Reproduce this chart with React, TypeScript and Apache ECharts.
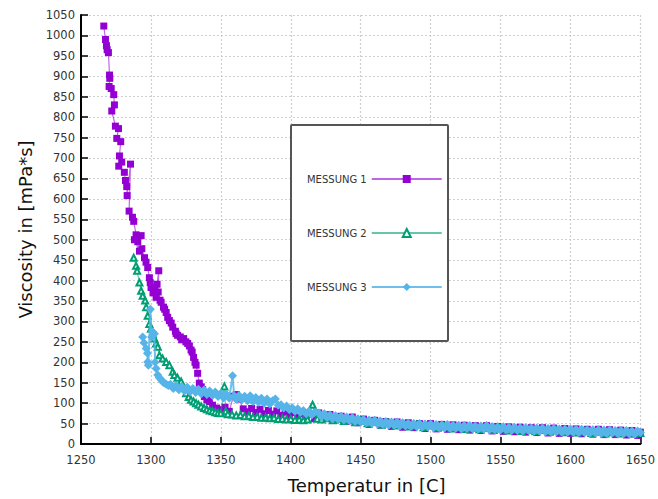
import React, { useEffect, useRef } from "react";
import * as echarts from "echarts";

const seriesNames = ["MESSUNG 1", "MESSUNG 2", "MESSUNG 3"];

// MESSUNG 1 : [temperature °C, viscosity mPa*s]
const m1Steep: number[][] = [
  [1266.3, 1023], [1267.5, 990], [1268.2, 975], [1268.7, 965], [1269.6, 958],
  [1270.4, 903], [1270.6, 895], [1270.1, 875], [1271.6, 870], [1273.4, 855],
  [1273.9, 830], [1272.0, 815], [1274.6, 778], [1276.8, 772], [1275.6, 748],
  [1278.4, 740], [1277.5, 705], [1279.1, 690], [1277.0, 680], [1281.0, 665],
  [1281.8, 645], [1282.7, 630], [1283.0, 608], [1285.4, 685], [1284.4, 570],
  [1286.8, 555], [1287.7, 545], [1289.4, 512], [1293.0, 510], [1290.6, 495],
  [1288.2, 500], [1291.8, 472], [1293.5, 478], [1295.4, 456], [1296.5, 445],
  [1297.7, 432], [1298.9, 407], [1299.5, 395], [1300.1, 383], [1301.5, 370],
  [1302.5, 378], [1303.7, 359], [1304.4, 391], [1305.6, 424], [1305.2, 372],
  [1306.5, 352], [1307.3, 347], [1309.0, 335], [1309.8, 330], [1310.9, 322],
  [1312.0, 310], [1313.2, 302], [1314.5, 296], [1315.6, 286], [1317.5, 276],
  [1318.0, 270], [1319.1, 266], [1321.0, 262], [1322.0, 255], [1323.4, 258],
  [1325.0, 250], [1326.3, 246], [1327.5, 240], [1328.7, 230], [1329.5, 225],
  [1330.5, 212], [1331.5, 200], [1332.3, 193], [1333.4, 173], [1334.6, 149],
  [1336.0, 140], [1337.0, 133], [1338.2, 116], [1340.0, 108], [1341.8, 104],
];
const m1Tail: number[][] = [
  [1344, 95], [1347, 88], [1350, 84], [1353, 90], [1356, 80], [1359, 117],
  [1361, 121], [1363, 110], [1366, 86], [1369, 79], [1372, 87], [1375, 77],
  [1378, 85], [1381, 74], [1384, 82], [1387, 73], [1390, 81], [1393, 70],
  [1396, 78], [1399, 69], [1402, 77], [1405, 66], [1408, 74], [1411, 64],
  [1414, 73], [1417, 62], [1420, 76], [1424, 63], [1428, 72], [1432, 59],
  [1436, 68], [1440, 55], [1444, 66], [1448, 52], [1452, 61], [1456, 48],
  [1460, 58], [1464, 46], [1468, 55], [1472, 43], [1476, 54], [1480, 41],
  [1484, 52], [1488, 40], [1492, 50], [1496, 38], [1500, 50], [1504, 37],
  [1508, 48], [1512, 36], [1516, 47], [1520, 35], [1524, 46], [1528, 34],
  [1532, 45], [1536, 33], [1540, 45], [1544, 32], [1548, 43], [1552, 31],
  [1556, 42], [1560, 30], [1564, 41], [1568, 29], [1572, 40], [1576, 28],
  [1580, 40], [1584, 27], [1588, 39], [1592, 26], [1596, 38], [1600, 26],
  [1604, 37], [1608, 25], [1612, 36], [1616, 24], [1620, 36], [1624, 23],
  [1628, 35], [1632, 23], [1636, 34], [1640, 22], [1644, 33], [1648, 21],
  [1650, 29],
];

// MESSUNG 2
const m2Steep: number[][] = [
  [1287.7, 456], [1289.4, 436], [1290.1, 424], [1291.8, 395], [1293.0, 375],
  [1294.1, 363], [1295.9, 351], [1296.6, 335], [1297.7, 314], [1298.9, 294],
  [1300.0, 282], [1301.3, 270], [1302.5, 258], [1303.7, 246], [1304.9, 238],
  [1306.1, 217], [1308.4, 209], [1310.9, 201], [1313.2, 193], [1315.6, 177],
  [1316.8, 169], [1319.0, 162], [1321.6, 153], [1322.5, 140], [1325.1, 124],
  [1327.0, 115], [1328.7, 108], [1330.5, 104], [1332.3, 100], [1334.0, 96],
  [1335.9, 92],
];
const m2Tail: number[][] = [
  [1338, 88], [1340, 85], [1342, 82], [1344, 80], [1346, 78], [1348, 76],
  [1350, 75], [1352.5, 141], [1353.5, 80], [1355, 73], [1358, 72], [1361, 70],
  [1364, 71], [1367, 68], [1370, 69], [1373, 66], [1376, 67], [1379, 64],
  [1382, 65], [1385, 63], [1388, 64], [1391, 61], [1394, 62], [1397, 60],
  [1400, 61], [1403, 59], [1406, 60], [1409, 58], [1412, 60], [1415.6, 96],
  [1417, 78], [1419, 62], [1422, 60], [1426, 63], [1430, 58], [1434, 61],
  [1438, 56], [1442, 59], [1446, 53], [1450, 57], [1455, 51], [1460, 54],
  [1465, 47], [1470, 51], [1475, 45], [1480, 48], [1485, 43], [1490, 47],
  [1495, 41], [1500, 45], [1505, 40], [1510, 43], [1515, 38], [1520, 42],
  [1525, 37], [1530, 40], [1535, 36], [1540, 39], [1545, 34], [1550, 38],
  [1555, 33], [1560, 36], [1565, 32], [1570, 35], [1575, 31], [1580, 34],
  [1585, 30], [1590, 33], [1595, 29], [1600, 32], [1605, 28], [1610, 31],
  [1615, 27], [1620, 30], [1625, 26], [1630, 29], [1635, 26], [1640, 28],
  [1645, 25], [1650, 27],
];

// MESSUNG 3
const m3Steep: number[][] = [
  [1294.1, 262], [1295.0, 248], [1296.6, 234], [1297.5, 222], [1297.7, 201],
  [1298.2, 193], [1299.6, 330], [1300.5, 262], [1301.3, 274], [1302.5, 270],
  [1303.0, 200], [1303.7, 185], [1304.9, 169], [1306.0, 162], [1307.3, 157],
  [1308.5, 152], [1309.6, 149], [1311.0, 146], [1312.5, 143],
];
const m3Mid: number[][] = [
  [1314, 146], [1316, 136], [1318, 143], [1320, 133], [1322, 141], [1324, 130],
  [1326, 139], [1328, 128], [1330, 136], [1332, 126], [1334, 134], [1336, 123],
  [1338, 132], [1340, 121], [1342, 130], [1344, 119], [1346, 127], [1348, 116],
  [1350, 124], [1352, 113], [1354, 122], [1356, 112], [1358.4, 167], [1359.5, 118],
  [1361, 109], [1363, 119], [1365, 108], [1367, 117], [1369, 106], [1371, 118],
  [1373, 104], [1375, 114], [1377, 102], [1379, 112], [1381, 100], [1383, 110],
  [1385, 98], [1387, 106], [1389, 110], [1391, 95], [1393, 96], [1395, 88],
  [1397, 93], [1399, 84], [1401, 89], [1403, 80], [1405, 86], [1407, 77],
  [1409, 82], [1411, 74], [1413, 80], [1415, 71], [1417, 77],
];
const m3Tail: number[][] = [
  [1420, 76], [1422, 67], [1424, 74], [1426, 65], [1428, 71], [1430, 62],
  [1432, 69], [1434, 60], [1436, 68], [1438, 59], [1440, 66], [1442, 57],
  [1444, 64], [1446, 55], [1448, 62], [1450, 54], [1452, 60], [1454, 52],
  [1456, 59], [1458, 50], [1460, 58], [1462, 49], [1464, 56], [1466, 48],
  [1468, 55], [1470, 46], [1472, 54], [1474, 45], [1476, 54], [1478, 44],
  [1480, 52], [1482, 44], [1484, 51], [1486, 43], [1488, 50], [1490, 42],
  [1492, 50], [1494, 41], [1496, 49], [1498, 42], [1500, 49], [1502, 40],
  [1504, 48], [1506, 40], [1508, 47], [1510, 39], [1512, 48], [1514, 38],
  [1516, 46], [1518, 38], [1520, 46], [1522, 37], [1524, 45], [1526, 38],
  [1528, 45], [1530, 37], [1532, 44], [1534, 36], [1536, 44], [1538, 36],
  [1540, 45], [1542, 35], [1544, 43], [1546, 35], [1548, 42], [1550, 34],
  [1552, 42], [1554, 34], [1556, 41], [1558, 33], [1560, 41], [1562, 33],
  [1564, 40], [1566, 32], [1568, 40], [1570, 33], [1572, 39], [1574, 31],
  [1576, 39], [1578, 31], [1580, 39], [1582, 30], [1584, 38], [1586, 30],
  [1588, 38], [1590, 30], [1592, 37], [1594, 29], [1596, 37], [1598, 29],
  [1600, 37], [1602, 28], [1604, 36], [1606, 28], [1608, 36], [1610, 28],
  [1612, 35], [1614, 27], [1616, 35], [1618, 27], [1620, 35], [1622, 26],
  [1624, 34], [1626, 26], [1628, 34], [1630, 27], [1632, 33], [1634, 25],
  [1636, 33], [1638, 25], [1640, 33], [1642, 25], [1644, 32], [1646, 24],
  [1648, 32], [1650, 28],
];

const xTicks = { min: 1250, max: 1650, step: 50 };
const yTicks = { min: 0, max: 1050, step: 50 };

const FONT = "DejaVu Sans";

export default function App() {
  const ref = useRef<HTMLDivElement>(null);
  useEffect(() => {
    if (!ref.current) return;
    const chart = echarts.init(ref.current, undefined, { renderer: "svg" });
    const gridLine = { show: true, lineStyle: { color: "#cfcfcf", type: [2, 2] as any, width: 1.2 } };
    const plain = (v: number) => String(v);
    chart.setOption({
      animation: false,
      backgroundColor: "#ffffff",
      grid: { left: 81, right: 17, top: 15, bottom: 51, containLabel: false },
      xAxis: {
        type: "value",
        min: xTicks.min,
        max: xTicks.max,
        interval: xTicks.step,
        name: "Temperatur in [C]",
        nameLocation: "middle",
        nameGap: 32,
        nameTextStyle: { fontFamily: FONT, fontSize: 18, color: "#111", padding: [0, 0, 0, 12] },
        axisLine: { show: true, onZero: false, lineStyle: { color: "#000", width: 2 } },
        axisTick: { show: true, inside: true, length: 7, lineStyle: { color: "#000", width: 1.5 } },
        axisLabel: { fontFamily: FONT, fontSize: 11.5, color: "#333", margin: 10, formatter: plain },
        splitLine: gridLine,
      },
      yAxis: {
        type: "value",
        min: yTicks.min,
        max: yTicks.max,
        interval: yTicks.step,
        name: "Viscosity in [mPa*s]",
        nameLocation: "middle",
        nameGap: 40,
        nameRotate: 90,
        nameTextStyle: { fontFamily: FONT, fontSize: 18, color: "#111" },
        axisLine: { show: true, onZero: false, lineStyle: { color: "#000", width: 2 } },
        axisTick: { show: true, inside: true, length: 7, lineStyle: { color: "#000", width: 1.5 } },
        axisLabel: { fontFamily: FONT, fontSize: 11.5, color: "#333", margin: 6, formatter: plain },
        splitLine: gridLine,
      },
      legend: {
        data: seriesNames,
        orient: "vertical",
        left: 302,
        top: 169,
        align: "right",
        itemWidth: 70,
        itemHeight: 10,
        itemGap: 44,
        z: 10,
        textStyle: { fontFamily: FONT, fontSize: 10, color: "#333" },
      },
      graphic: [
        {
          type: "rect",
          left: 290,
          top: 124,
          z: 5,
          shape: { width: 157, height: 216, r: 1 },
          style: { fill: "#fff", stroke: "#555", lineWidth: 2 },
        },
      ],
      series: [
        {
          name: seriesNames[0],
          type: "line",
          data: [...m1Steep, ...m1Tail],
          symbol: "rect",
          symbolSize: 7,
          itemStyle: { color: "#9400D3" },
          lineStyle: { color: "#9400D3", width: 1.2, opacity: 0.6 },
          z: 2,
        },
        {
          name: seriesNames[1],
          type: "line",
          data: [...m2Steep, ...m2Tail],
          symbol: "emptyTriangle",
          symbolSize: 6,
          itemStyle: { color: "#009E73", borderWidth: 1.5 },
          lineStyle: { color: "#009E73", width: 1.2, opacity: 0.6 },
          z: 3,
        },
        {
          name: seriesNames[2],
          type: "line",
          data: [...m3Steep, ...m3Mid, ...m3Tail],
          symbol: "diamond",
          symbolSize: 9,
          itemStyle: { color: "#56B4E9" },
          lineStyle: { color: "#56B4E9", width: 2, opacity: 0.85 },
          z: 4,
        },
      ],
    });
    return () => chart.dispose();
  }, []);
  return (
    <div
      ref={ref}
      style={{ position: "fixed", left: 0, top: 0, width: 658, height: 499 }}
    />
  );
}
